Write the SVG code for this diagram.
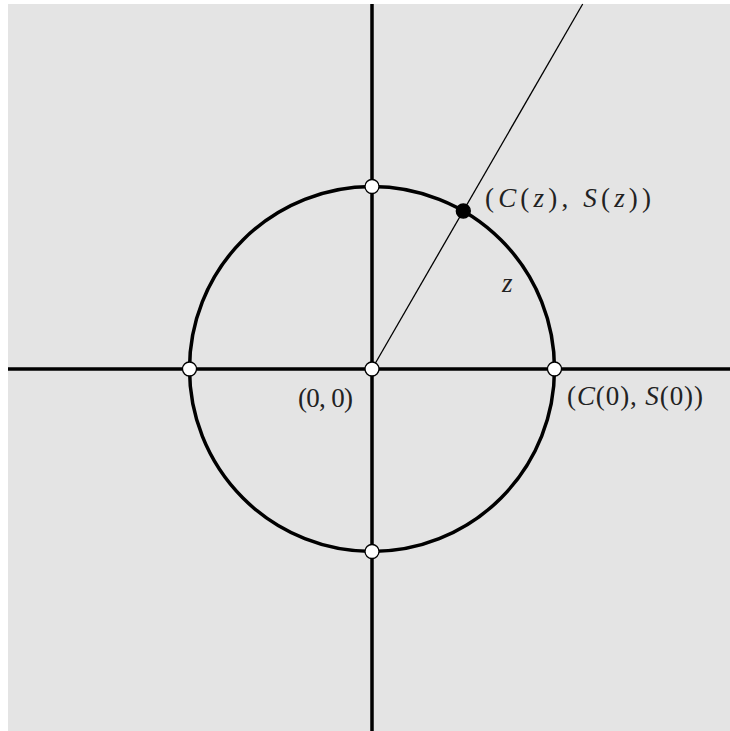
<svg xmlns="http://www.w3.org/2000/svg" width="730" height="731" viewBox="0 0 730 731">
<style>
.axis{stroke:#000;stroke-width:3.5;fill:none}
.thin{stroke:#000;stroke-width:1.3;fill:none}
.open{fill:#fff;stroke:#000;stroke-width:1.3}
.full{fill:#000;stroke:#000;stroke-width:1.3}
text{font-family:"Liberation Serif","DejaVu Serif",serif;font-size:27px;fill:#222}
.i{font-style:italic}
</style>
<rect x="8" y="4" width="722" height="727" fill="#e4e4e4"/>
<g id="connectors">
<line class="axis" x1="372" y1="4" x2="372" y2="731"/>
<line class="axis" x1="8" y1="369" x2="730" y2="369"/>
<circle id="circle" class="axis" cx="372" cy="369" r="182.5"/>
<line class="thin" x1="372" y1="369" x2="582.7" y2="4"/>
</g>
<g id="origin"><circle class="open" cx="372" cy="369" r="7"/><text x="298" y="407" textLength="55" lengthAdjust="spacing">(0, 0)</text></g>
<g id="top"><circle class="open" cx="372" cy="186.5" r="7"/></g>
<g id="bottom"><circle class="open" cx="372" cy="551.5" r="7"/></g>
<g id="left"><circle class="open" cx="189.5" cy="369" r="7"/></g>
<g id="right"><circle class="open" cx="554.5" cy="369" r="7"/><text x="567" y="405" textLength="136" lengthAdjust="spacing">(<tspan class="i">C</tspan>(0), <tspan class="i">S</tspan>(0))</text></g>
<g id="pz"><circle class="full" cx="463.3" cy="211" r="7"/><text x="485" y="207" textLength="166" lengthAdjust="spacing">(<tspan class="i">C</tspan>(<tspan class="i">z</tspan>), <tspan class="i">S</tspan>(<tspan class="i">z</tspan>))</text></g>
<g id="zlabel"><text class="i" x="502" y="292">z</text></g>
</svg>
